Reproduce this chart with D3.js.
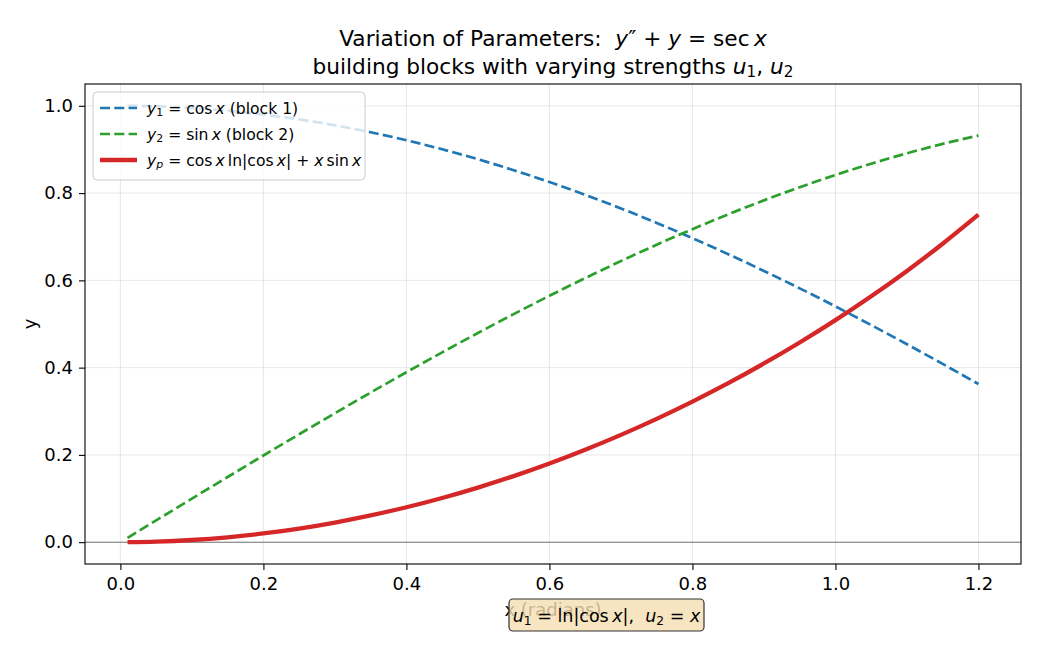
<!DOCTYPE html>
<html>
<head>
<meta charset="utf-8">
<script src="https://cdn.jsdelivr.net/npm/d3@7"></script>
<style>
  body { margin: 0; background: #fff; }
  svg { font-family: "DejaVu Sans", sans-serif; }
  svg text { white-space: pre; }
</style>
</head>
<body>
<div id="chart"></div>
<script>
// sample points
const xs = [0.01, 0.05, 0.10, 0.15, 0.20, 0.25, 0.30, 0.35, 0.40, 0.45, 0.50, 0.55, 0.60,
            0.65, 0.70, 0.75, 0.80, 0.85, 0.90, 0.95, 1.00, 1.05, 1.10, 1.15, 1.20];
const y1 = [1.0000, 0.9988, 0.9950, 0.9888, 0.9801, 0.9689, 0.9553, 0.9394, 0.9211, 0.9004, 0.8776, 0.8525, 0.8253,
            0.7961, 0.7648, 0.7317, 0.6967, 0.6600, 0.6216, 0.5817, 0.5403, 0.4976, 0.4536, 0.4085, 0.3624];
const y2 = [0.0100, 0.0500, 0.0998, 0.1494, 0.1987, 0.2474, 0.2955, 0.3429, 0.3894, 0.4350, 0.4794, 0.5227, 0.5646,
            0.6052, 0.6442, 0.6816, 0.7174, 0.7513, 0.7833, 0.8134, 0.8415, 0.8674, 0.8912, 0.9128, 0.9320];
const yp = [0.0001, 0.0013, 0.0050, 0.0112, 0.0200, 0.0312, 0.0450, 0.0613, 0.0800, 0.1013, 0.1251, 0.1514, 0.1803,
            0.2118, 0.2459, 0.2826, 0.3221, 0.3643, 0.4095, 0.4576, 0.5088, 0.5635, 0.6217, 0.6840, 0.7506];
const xTicks = [0.0, 0.2, 0.4, 0.6, 0.8, 1.0, 1.2];
const yTicks = [0.0, 0.2, 0.4, 0.6, 0.8, 1.0];

const width = 1040, height = 650;
const margin = { top: 84, right: 19, bottom: 86, left: 85 };

const svg = d3.select("#chart").append("svg")
    .attr("width", width).attr("height", height);

const x = d3.scaleLinear().domain([-0.0495, 1.2595]).range([margin.left, width - margin.right]);
const y = d3.scaleLinear().domain([-0.05, 1.05]).range([height - margin.bottom, margin.top]);

// rich text helper for mathtext-ish labels
function rich(sel, parts, size) {
    parts.forEach(p => {
        const ts = sel.append("tspan").text(p.t);
        if (p.i) ts.attr("font-style", "italic");
        if (p.sub) {
            ts.attr("font-size", size * 0.7).attr("baseline-shift", "-22%");
        }
    });
    return sel;
}

// grid
const grid = svg.append("g");
grid.selectAll(".gx").data(xTicks).enter().append("line")
    .attr("x1", d => x(d)).attr("x2", d => x(d))
    .attr("y1", margin.top).attr("y2", height - margin.bottom)
    .attr("stroke", "#b0b0b0").attr("stroke-opacity", 0.3).attr("stroke-width", 1);
grid.selectAll(".gy").data(yTicks).enter().append("line")
    .attr("x1", margin.left).attr("x2", width - margin.right)
    .attr("y1", d => y(d)).attr("y2", d => y(d))
    .attr("stroke", "#b0b0b0").attr("stroke-opacity", 0.3).attr("stroke-width", 1);

// zero line
svg.append("line")
    .attr("x1", margin.left).attr("x2", width - margin.right)
    .attr("y1", y(0)).attr("y2", y(0))
    .attr("stroke", "#000").attr("stroke-opacity", 0.5).attr("stroke-width", 1.1);

const line = d3.line().curve(d3.curveMonotoneX);
const series = [
    { vals: y1, color: "#1f77b4", w: 2.7, dash: "10,4.3" },
    { vals: y2, color: "#2ca02c", w: 2.7, dash: "10,4.3" },
    { vals: yp, color: "#d62728", w: 4.3, dash: null }
];
series.forEach(s => {
    svg.append("path")
        .attr("d", line(xs.map((v, i) => [x(v), y(s.vals[i])])))
        .attr("fill", "none")
        .attr("stroke", s.color)
        .attr("stroke-width", s.w)
        .attr("stroke-dasharray", s.dash);
});

// frame
svg.append("rect")
    .attr("x", margin.left).attr("y", margin.top)
    .attr("width", width - margin.left - margin.right)
    .attr("height", height - margin.top - margin.bottom)
    .attr("fill", "none").attr("stroke", "#000").attr("stroke-width", 1.1);

// axes
const xAxis = svg.append("g")
    .attr("transform", `translate(0,${height - margin.bottom})`)
    .call(d3.axisBottom(x).tickValues(xTicks).tickFormat(d3.format(".1f")).tickSizeOuter(0).tickSize(6));
const yAxis = svg.append("g")
    .attr("transform", `translate(${margin.left},0)`)
    .call(d3.axisLeft(y).tickValues(yTicks).tickFormat(d3.format(".1f")).tickSizeOuter(0).tickSize(6));
[xAxis, yAxis].forEach(a => {
    a.select(".domain").remove();
    a.selectAll("text").attr("font-size", 18).attr("fill", "#000")
        .attr("font-family", "DejaVu Sans");
    a.selectAll("line").attr("stroke", "#000").attr("stroke-width", 1.1);
});
xAxis.selectAll("text").attr("dy", "0.76em").attr("y", 12);
yAxis.selectAll("text").attr("x", -12);

// axis labels
svg.append("text")
    .attr("x", (margin.left + width - margin.right) / 2).attr("y", 616)
    .attr("text-anchor", "middle").attr("font-size", 18)
    .text("x (radians)");
svg.append("text")
    .attr("transform", `translate(36,${(margin.top + height - margin.bottom) / 2}) rotate(-90)`)
    .attr("text-anchor", "middle").attr("font-size", 18)
    .text("y");

// title
const cx = (margin.left + width - margin.right) / 2;
const tSize = 21.7;
rich(svg.append("text").attr("x", cx).attr("y", 46).attr("text-anchor", "middle").attr("font-size", tSize),
    [{ t: "Variation of Parameters:  " }, { t: "y", i: 1 }, { t: "″ + " }, { t: "y", i: 1 },
     { t: " = sec\u2009" }, { t: "x", i: 1 }], tSize);
rich(svg.append("text").attr("x", cx).attr("y", 74).attr("text-anchor", "middle").attr("font-size", tSize),
    [{ t: "building blocks with varying strengths " }, { t: "u", i: 1 }, { t: "1", sub: 1 },
     { t: ", " }, { t: "u", i: 1 }, { t: "2", sub: 1 }], tSize);

// legend
const lSize = 15.6;
const leg = svg.append("g");
leg.append("rect")
    .attr("x", 93).attr("y", 92).attr("width", 272).attr("height", 88)
    .attr("rx", 4).attr("fill", "#fff").attr("fill-opacity", 0.8)
    .attr("stroke", "#cccccc").attr("stroke-width", 1);
const legItems = [
    { s: series[0], parts: [{ t: "y", i: 1 }, { t: "1", sub: 1 }, { t: " = cos\u2009" }, { t: "x", i: 1 }, { t: " (block 1)" }] },
    { s: series[1], parts: [{ t: "y", i: 1 }, { t: "2", sub: 1 }, { t: " = sin\u2009" }, { t: "x", i: 1 }, { t: " (block 2)" }] },
    { s: series[2], parts: [{ t: "y", i: 1 }, { t: "p", sub: 1, i: 1 }, { t: " = cos\u2009" }, { t: "x", i: 1 },
        { t: "\u2009ln|cos\u2009" }, { t: "x", i: 1 }, { t: "| + " }, { t: "x", i: 1 }, { t: "\u2009sin\u2009" }, { t: "x", i: 1 }] }
];
legItems.forEach((d, i) => {
    const yy = 108 + i * 26;
    leg.append("line")
        .attr("x1", 100).attr("x2", 137).attr("y1", yy).attr("y2", yy)
        .attr("stroke", d.s.color).attr("stroke-width", d.s.w)
        .attr("stroke-dasharray", d.s.dash);
    rich(leg.append("text").attr("x", 147).attr("y", yy + 5.5).attr("font-size", lSize), d.parts, lSize);
});

// annotation box
const aSize = 17.5;
const ann = svg.append("g");
ann.append("rect")
    .attr("x", 509).attr("y", 599).attr("width", 195).attr("height", 32)
    .attr("rx", 4).attr("fill", "#f5deb3").attr("fill-opacity", 0.8)
    .attr("stroke", "#333").attr("stroke-width", 1.2);
rich(ann.append("text").attr("x", 606.5).attr("y", 621.5).attr("text-anchor", "middle").attr("font-size", aSize),
    [{ t: "u", i: 1 }, { t: "1", sub: 1 }, { t: " = ln|cos\u2009" }, { t: "x", i: 1 }, { t: "|,  " },
     { t: "u", i: 1 }, { t: "2", sub: 1 }, { t: " = " }, { t: "x", i: 1 }], aSize);
</script>
</body>
</html>
